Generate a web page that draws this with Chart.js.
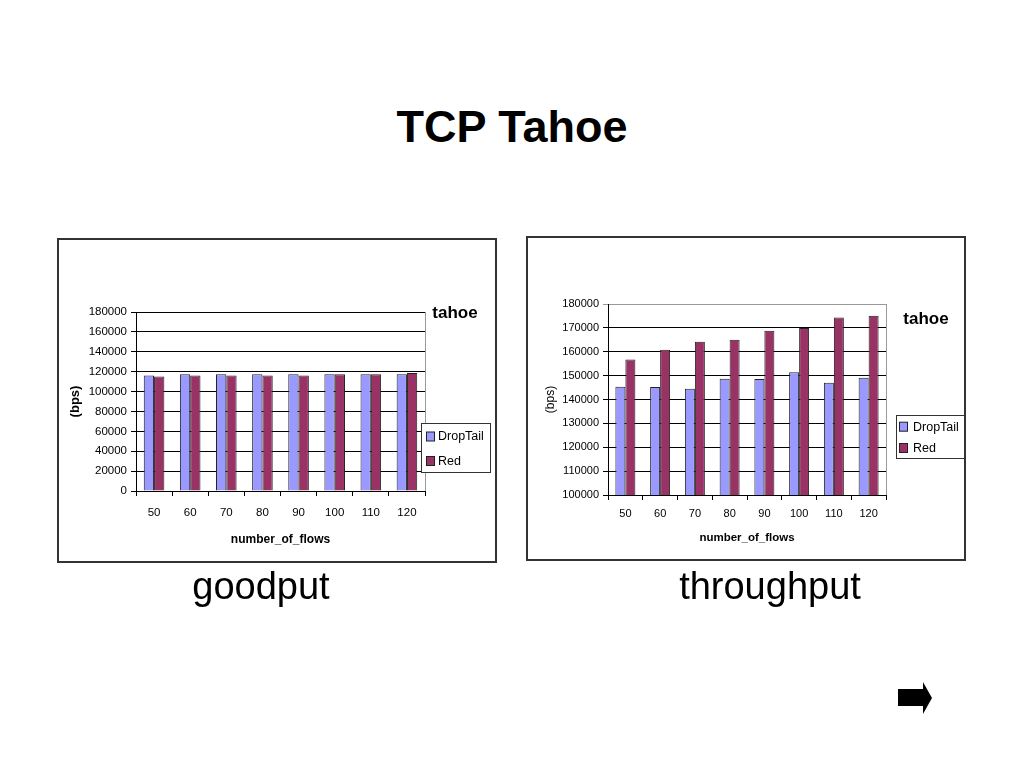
<!DOCTYPE html>
<html>
<head>
<meta charset="utf-8">
<script src="https://cdn.jsdelivr.net/npm/chart.js@4/dist/chart.umd.min.js"></script>
<style>
  html, body { margin: 0; padding: 0; background: #fff; }
  body { width: 1024px; height: 768px; position: relative; overflow: hidden; font-family: "Liberation Sans", Arial, sans-serif; }
  .title { position: absolute; left: 0; width: 1024px; top: 104px; text-align: center; font-size: 45px; line-height: 45px; font-weight: bold; color: #000; }
  .caption { position: absolute; top: 567px; width: 300px; text-align: center; font-size: 38px; line-height: 38px; color: #000; }
  .wrap { position: absolute; width: 440px; height: 325px; }
  .frame { position: absolute; width: 440px; height: 325px; box-sizing: border-box; border: 2px solid #333; pointer-events: none; }
  .arrow { position: absolute; left: 898px; top: 682px; width: 34px; height: 32px; background: #000;
    clip-path: polygon(0 7px, 25px 7px, 25px 0, 34px 16px, 25px 32px, 25px 24px, 0 24px); }
</style>
</head>
<body>
<div class="title">TCP Tahoe</div>

<div class="wrap" style="left:57px; top:238px;"><canvas id="goodput" width="440" height="325"></canvas></div>
<div class="frame" style="left:57px; top:238px;"></div>

<div class="wrap" style="left:526px; top:236px;"><canvas id="throughput" width="440" height="325"></canvas></div>
<div class="frame" style="left:526px; top:236px;"></div>

<div class="caption" style="left:111px;">goodput</div>
<div class="caption" style="left:620px;">throughput</div>
<div class="arrow"></div>

<script>
const flows = ['50', '60', '70', '80', '90', '100', '110', '120'];
const seriesNames = ['DropTail', 'Red'];
const seriesColors = ['#9999ff', '#993366'];

const goodputDropTail = [116200, 117300, 117300, 117300, 117300, 117300, 117300, 117300];
const goodputRed = [115200, 116200, 116200, 116200, 116200, 117300, 117300, 118700];

const throughputDropTail = [145300, 145200, 144500, 148700, 148600, 151400, 147000, 149100];
const throughputRed = [156800, 160800, 164200, 165000, 168800, 170000, 174300, 175100];

const FONT = '"Liberation Sans", Arial, sans-serif';

// "tahoe" label, legend box and grey plot-area edge, drawn beside the plot
const sideNotes = {
  id: 'sideNotes',
  beforeDatasetsDraw(chart, args, opts) {
    const { ctx, chartArea: a } = chart;
    ctx.save();
    ctx.strokeStyle = '#999';
    ctx.lineWidth = 1;
    ctx.beginPath();
    ctx.moveTo(Math.round(a.right) + 0.5, a.top);
    ctx.lineTo(Math.round(a.right) + 0.5, a.bottom);
    ctx.stroke();
    ctx.restore();
  },
  afterDraw(chart, args, opts) {
    const { ctx } = chart;
    ctx.save();
    ctx.fillStyle = '#000';
    ctx.font = 'bold 17px ' + FONT;
    ctx.textAlign = 'center';
    ctx.textBaseline = 'alphabetic';
    ctx.fillText(opts.title, opts.titleX, opts.titleY);

    const b = opts.box;
    ctx.fillStyle = '#fff';
    ctx.fillRect(b.x, b.y, b.w, b.h);
    ctx.strokeStyle = '#333';
    ctx.lineWidth = 1;
    ctx.strokeRect(b.x + 0.5, b.y + 0.5, b.w, b.h);

    ctx.font = '12.5px ' + FONT;
    ctx.textAlign = 'left';
    ctx.textBaseline = 'middle';
    chart.data.datasets.forEach((ds, i) => {
      const cy = b.rows[i];
      ctx.fillStyle = ds.backgroundColor;
      ctx.fillRect(b.sx, cy - 4.5, 8, 9);
      ctx.strokeStyle = '#222';
      ctx.strokeRect(b.sx + 0.5, cy - 4.5, 8, 9);
      ctx.fillStyle = '#000';
      ctx.fillText(ds.label, b.tx, cy + 0.5);
    });
    ctx.restore();
  },
};

function makeChart(id, a, b, s) {
  return new Chart(document.getElementById(id), {
    type: 'bar',
    data: {
      labels: flows,
      datasets: [a, b].map((values, i) => ({
        label: seriesNames[i],
        data: values,
        backgroundColor: seriesColors[i],
        borderColor: '#222',
        borderWidth: 1,
        barPercentage: 1,
        categoryPercentage: s.catPct,
      })),
    },
    options: {
      responsive: false,
      animation: false,
      layout: { padding: { left: 0, right: s.padRight, top: s.padTop, bottom: 12 } },
      plugins: {
        legend: { display: false },
        tooltip: { enabled: false },
        sideNotes: s.notes,
      },
      scales: {
        x: {
          afterFit: (sc) => { sc.height = s.xHeight; },
          ticks: { color: '#000', padding: s.xPad, font: { family: FONT, size: s.tickSize } },
          grid: { display: true, drawOnChartArea: false, offset: true, tickLength: 5, color: '#000' },
          border: { color: '#000' },
          title: {
            display: true,
            text: 'number_of_flows',
            color: '#000',
            padding: { top: 4, bottom: 4 },
            font: { family: FONT, size: s.xTitleSize, weight: 'bold' },
          },
        },
        y: {
          min: s.min,
          max: 180000,
          afterFit: (sc) => { sc.width = s.yWidth; },
          ticks: {
            stepSize: s.step,
            color: '#000',
            padding: 4,
            font: { family: FONT, size: s.tickSize },
            callback: (v) => String(v),
          },
          grid: {
            color: (c) => (c.tick && c.tick.value === 180000 ? s.topGrid : '#000'),
            tickLength: 5,
          },
          border: { color: '#000' },
          title: {
            display: true,
            text: '(bps)',
            color: '#000',
            padding: { top: s.yTitlePad, bottom: 0 },
            font: { family: FONT, size: s.yTitleSize, weight: s.yTitleWeight },
          },
        },
      },
    },
    plugins: [sideNotes],
  });
}

makeChart('goodput', goodputDropTail, goodputRed, {
  min: 0, step: 20000, catPct: 0.57,
  padRight: 72, padTop: 74, yWidth: 79, xHeight: 60, xPad: 10,
  tickSize: 11.5, xTitleSize: 12, yTitleSize: 13, yTitleWeight: 'bold', yTitlePad: 11,
  topGrid: '#000',
  notes: {
    title: 'tahoe', titleX: 398, titleY: 80,
    box: { x: 364, y: 185, w: 69, h: 49, rows: [198.5, 223], sx: 369, tx: 381 },
  },
});

makeChart('throughput', throughputDropTail, throughputRed, {
  min: 100000, step: 10000, catPct: 0.575,
  padRight: 80, padTop: 68, yWidth: 82, xHeight: 54, xPad: 7,
  tickSize: 11, xTitleSize: 11.5, yTitleSize: 12, yTitleWeight: 'normal', yTitlePad: 17,
  topGrid: '#999',
  notes: {
    title: 'tahoe', titleX: 400, titleY: 88,
    box: { x: 370, y: 179, w: 68, h: 43, rows: [190.7, 212], sx: 373, tx: 387 },
  },
});
</script>
</body>
</html>
